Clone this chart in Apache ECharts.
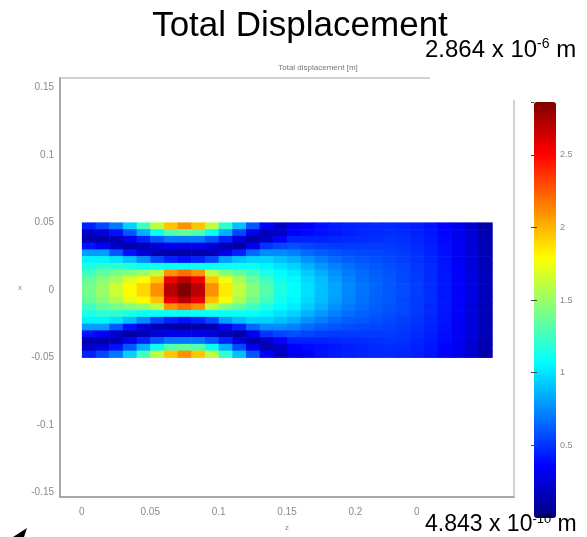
<!DOCTYPE html>
<html>
<head>
<meta charset="utf-8">
<title>Total Displacement</title>
<script src="https://cdn.jsdelivr.net/npm/echarts@6/dist/echarts.min.js"></script>
<style>
  html, body { margin: 0; padding: 0; background: #fff; }
  #chart { width: 587px; height: 537px; }
</style>
</head>
<body>
<div id="chart"></div>
<script>
// displacement in units of 1e-6 m, cells are 0.01 (z) by 0.005 (x)
const zCenters = [0.005, 0.015, 0.025, 0.035, 0.045, 0.055, 0.065, 0.075, 0.085, 0.095,
  0.105, 0.115, 0.125, 0.135, 0.145, 0.155, 0.165, 0.175, 0.185, 0.195,
  0.205, 0.215, 0.225, 0.235, 0.245, 0.255, 0.265, 0.275, 0.285, 0.295];
const xCenters = [0.0475, 0.0425, 0.0375, 0.0325, 0.0275, 0.0225, 0.0175, 0.0125, 0.0075, 0.0025,
  -0.0025, -0.0075, -0.0125, -0.0175, -0.0225, -0.0275, -0.0325, -0.0375, -0.0425, -0.0475];
const field = [
  [0.45,0.55,0.7,0.95,1.25,1.6,1.95,2.1,1.95,1.6,1.2,0.9,0.6,0.35,0.2,0.3,0.35,0.4,0.43,0.45,0.46,0.47,0.47,0.46,0.44,0.41,0.36,0.3,0.22,0.12],
  [0.2,0.25,0.4,0.6,0.85,1.1,1.3,1.35,1.3,1.1,0.85,0.55,0.3,0.15,0.2,0.35,0.38,0.4,0.42,0.44,0.46,0.47,0.48,0.47,0.45,0.42,0.37,0.31,0.23,0.13],
  [0.15,0.12,0.15,0.3,0.45,0.6,0.7,0.7,0.7,0.6,0.45,0.25,0.12,0.2,0.35,0.45,0.45,0.45,0.46,0.47,0.48,0.49,0.5,0.49,0.46,0.43,0.38,0.32,0.24,0.14],
  [0.4,0.35,0.2,0.12,0.15,0.25,0.3,0.3,0.3,0.25,0.15,0.12,0.3,0.5,0.55,0.58,0.55,0.53,0.52,0.52,0.52,0.52,0.52,0.5,0.48,0.44,0.39,0.33,0.25,0.15],
  [0.8,0.8,0.6,0.4,0.25,0.15,0.12,0.1,0.12,0.15,0.3,0.45,0.65,0.75,0.75,0.72,0.66,0.62,0.59,0.57,0.56,0.55,0.54,0.52,0.49,0.45,0.4,0.33,0.25,0.15],
  [1.05,1.05,1.0,0.9,0.75,0.55,0.45,0.4,0.45,0.55,0.8,0.9,0.95,0.95,0.9,0.85,0.77,0.71,0.66,0.62,0.6,0.58,0.56,0.53,0.5,0.46,0.41,0.34,0.26,0.16],
  [1.15,1.2,1.2,1.15,1.1,1.1,1.1,1.1,1.1,1.1,1.1,1.1,1.1,1.05,1.0,0.95,0.86,0.79,0.72,0.67,0.63,0.6,0.58,0.55,0.51,0.47,0.41,0.34,0.26,0.16],
  [1.25,1.35,1.4,1.45,1.5,1.6,2.1,2.2,2.1,1.6,1.45,1.35,1.25,1.15,1.07,1.02,0.93,0.85,0.77,0.7,0.66,0.62,0.59,0.56,0.52,0.47,0.42,0.35,0.26,0.16],
  [1.35,1.45,1.55,1.7,1.8,1.95,2.55,2.7,2.55,1.95,1.75,1.55,1.38,1.25,1.12,1.06,0.97,0.89,0.8,0.73,0.67,0.63,0.6,0.56,0.52,0.48,0.42,0.35,0.27,0.17],
  [1.4,1.5,1.65,1.8,1.9,2.1,2.7,2.86,2.7,2.1,1.85,1.62,1.45,1.3,1.15,1.08,0.99,0.9,0.82,0.74,0.68,0.64,0.6,0.57,0.53,0.48,0.42,0.35,0.27,0.17],
  [1.4,1.5,1.65,1.8,1.9,2.1,2.7,2.86,2.7,2.1,1.85,1.62,1.45,1.3,1.15,1.08,0.99,0.9,0.82,0.74,0.68,0.64,0.6,0.57,0.53,0.48,0.42,0.35,0.27,0.17],
  [1.35,1.45,1.55,1.7,1.8,1.95,2.55,2.7,2.55,1.95,1.75,1.55,1.38,1.25,1.12,1.06,0.97,0.89,0.8,0.73,0.67,0.63,0.6,0.56,0.52,0.48,0.42,0.35,0.27,0.17],
  [1.25,1.35,1.4,1.45,1.5,1.6,2.1,2.2,2.1,1.6,1.45,1.35,1.25,1.15,1.07,1.02,0.93,0.85,0.77,0.7,0.66,0.62,0.59,0.56,0.52,0.47,0.42,0.35,0.26,0.16],
  [1.15,1.2,1.2,1.15,1.1,1.1,1.1,1.1,1.1,1.1,1.1,1.1,1.1,1.05,1.0,0.95,0.86,0.79,0.72,0.67,0.63,0.6,0.58,0.55,0.51,0.47,0.41,0.34,0.26,0.16],
  [1.05,1.05,1.0,0.9,0.75,0.55,0.45,0.4,0.45,0.55,0.8,0.9,0.95,0.95,0.9,0.85,0.77,0.71,0.66,0.62,0.6,0.58,0.56,0.53,0.5,0.46,0.41,0.34,0.26,0.16],
  [0.8,0.8,0.6,0.4,0.25,0.15,0.12,0.1,0.12,0.15,0.3,0.45,0.65,0.75,0.75,0.72,0.66,0.62,0.59,0.57,0.56,0.55,0.54,0.52,0.49,0.45,0.4,0.33,0.25,0.15],
  [0.4,0.35,0.2,0.12,0.15,0.25,0.3,0.3,0.3,0.25,0.15,0.12,0.3,0.5,0.55,0.58,0.55,0.53,0.52,0.52,0.52,0.52,0.52,0.5,0.48,0.44,0.39,0.33,0.25,0.15],
  [0.15,0.12,0.15,0.3,0.45,0.6,0.7,0.7,0.7,0.6,0.45,0.25,0.12,0.2,0.35,0.45,0.45,0.45,0.46,0.47,0.48,0.49,0.5,0.49,0.46,0.43,0.38,0.32,0.24,0.14],
  [0.2,0.25,0.4,0.6,0.85,1.1,1.3,1.35,1.3,1.1,0.85,0.55,0.3,0.15,0.2,0.35,0.38,0.4,0.42,0.44,0.46,0.47,0.48,0.47,0.45,0.42,0.37,0.31,0.23,0.13],
  [0.45,0.55,0.7,0.95,1.25,1.6,1.95,2.1,1.95,1.6,1.2,0.9,0.6,0.35,0.2,0.3,0.35,0.4,0.43,0.45,0.46,0.47,0.47,0.46,0.44,0.41,0.36,0.3,0.22,0.12]
];
const rangeMin = 0.0004843;   // 4.843e-10 m
const rangeMax = 2.864;       // 2.864e-6 m
const barTicks = 0.5;

const jet = ['#000080', '#0000ff', '#0080ff', '#00ffff', '#80ff80', '#ffff00', '#ff8000', '#ff0000', '#800000'];
const cellW = 0.01, cellH = 0.005;

const cells = [];
field.forEach((row, i) => row.forEach((v, j) => cells.push([zCenters[j], xCenters[i], v])));

function renderCell(params, api) {
  const z = api.value(0), x = api.value(1);
  const a = api.coord([z - cellW / 2, x + cellH / 2]);
  const b = api.coord([z + cellW / 2, x - cellH / 2]);
  return {
    type: 'rect',
    shape: { x: a[0], y: a[1], width: b[0] - a[0] + 0.6, height: b[1] - a[1] + 0.6 },
    style: { fill: api.visual('color') }
  };
}

const tickFont = { color: '#8a8a8a', fontSize: 10, fontFamily: 'Liberation Sans' };
const labelRich = (size, sup) => ({
  a: { fontSize: size, fontFamily: 'Liberation Sans', fill: '#000', color: '#000', lineHeight: size + 1 },
  b: { fontSize: sup, fontFamily: 'Liberation Sans', fill: '#000', color: '#000', lineHeight: size + 1, verticalAlign: 'top' }
});

const chart = echarts.init(document.getElementById('chart'));
chart.setOption({
  animation: false,
  grid: [
    { left: 60, top: 78, width: 454, height: 427, show: true, borderColor: '#c4c4c4', borderWidth: 1.5 },
    { left: 534, top: 102, width: 22, height: 416 }
  ],
  xAxis: [
    {
      type: 'value', gridIndex: 0, min: -0.016, max: 0.316,
      name: 'z', nameLocation: 'middle', nameGap: 27,
      nameTextStyle: { color: '#8a8a8a', fontSize: 8 },
      axisLine: { show: true, onZero: false, lineStyle: { color: '#a8a8a8', width: 2 } },
      axisTick: { show: false }, splitLine: { show: false },
      axisLabel: Object.assign({ margin: 10, showMinLabel: false, showMaxLabel: false }, tickFont)
    },
    { type: 'value', gridIndex: 1, min: 0, max: 1, show: false }
  ],
  yAxis: [
    {
      type: 'value', gridIndex: 0, min: -0.1535, max: 0.157,
      name: 'x', nameLocation: 'middle', nameGap: 38, nameRotate: 0,
      nameTextStyle: { color: '#8a8a8a', fontSize: 8 },
      axisLine: { show: true, onZero: false, lineStyle: { color: '#a8a8a8', width: 2 } },
      axisTick: { show: false }, splitLine: { show: false },
      axisLabel: Object.assign({ margin: 6, showMinLabel: false, showMaxLabel: false }, tickFont)
    },
    {
      type: 'value', gridIndex: 1, min: 0, max: rangeMax, interval: barTicks, position: 'right', z: 10,
      axisLine: { show: false }, splitLine: { show: false },
      axisTick: { show: true, inside: false, length: 3, lineStyle: { color: '#444' } },
      axisLabel: Object.assign({ margin: 4, showMinLabel: false, showMaxLabel: false }, tickFont, { fontSize: 9 })
    },
    {
      type: 'value', gridIndex: 1, min: 0, max: rangeMax, interval: barTicks, position: 'left', z: 10,
      axisLine: { show: false }, splitLine: { show: false },
      axisTick: { show: true, inside: false, length: 3, lineStyle: { color: '#444' } },
      axisLabel: { show: false }
    }
  ],
  visualMap: {
    type: 'continuous', min: rangeMin, max: rangeMax, seriesIndex: 0, dimension: 2,
    calculable: false, left: 534, top: 102, itemWidth: 22, itemHeight: 416, padding: 0,
    inRange: { color: jet }
  },
  series: [
    {
      type: 'custom', xAxisIndex: 0, yAxisIndex: 0, silent: true,
      renderItem: renderCell, encode: { x: 0, y: 1 }, data: cells, clip: true
    }
  ],
  graphic: [
    { type: 'text', x: 300, y: 26, z: 101,
      style: { text: 'Total Displacement', fill: '#000', font: '35px "Liberation Sans"',
        align: 'center', verticalAlign: 'middle', textAlign: 'center', textVerticalAlign: 'middle' } },
    { type: 'text', x: 318, y: 68, z: 101,
      style: { text: 'Total displacement [m]', fill: '#777', font: '8px "Liberation Sans"',
        align: 'center', verticalAlign: 'middle', textAlign: 'center', textVerticalAlign: 'middle' } },
    { type: 'rect', z: 100, shape: { x: 430, y: 34, width: 157, height: 66 }, style: { fill: '#fff' } },
    { type: 'rect', z: 100, shape: { x: 419, y: 507, width: 110, height: 30 }, style: { fill: '#fff' } },
    { type: 'rect', z: 100, shape: { x: 529, y: 518, width: 58, height: 19 }, style: { fill: '#fff' } },
    { type: 'text', x: 425, y: 50, z: 101,
      style: {
        text: '{a|2.864 x 10}{b|-6}{a| m}',
        align: 'left', verticalAlign: 'middle', textAlign: 'left', textVerticalAlign: 'middle',
        rich: labelRich(24, 14)
      } },
    { type: 'text', x: 425, y: 525, z: 101,
      style: {
        text: '{a|4.843 x 10}{b|-10}{a| m}',
        align: 'left', verticalAlign: 'middle', textAlign: 'left', textVerticalAlign: 'middle',
        rich: labelRich(23, 13)
      } },
    { type: 'polygon', z: 101, shape: { points: [[13, 537], [27, 528], [24, 537]] }, style: { fill: '#000' } }
  ]
});
</script>
</body>
</html>
